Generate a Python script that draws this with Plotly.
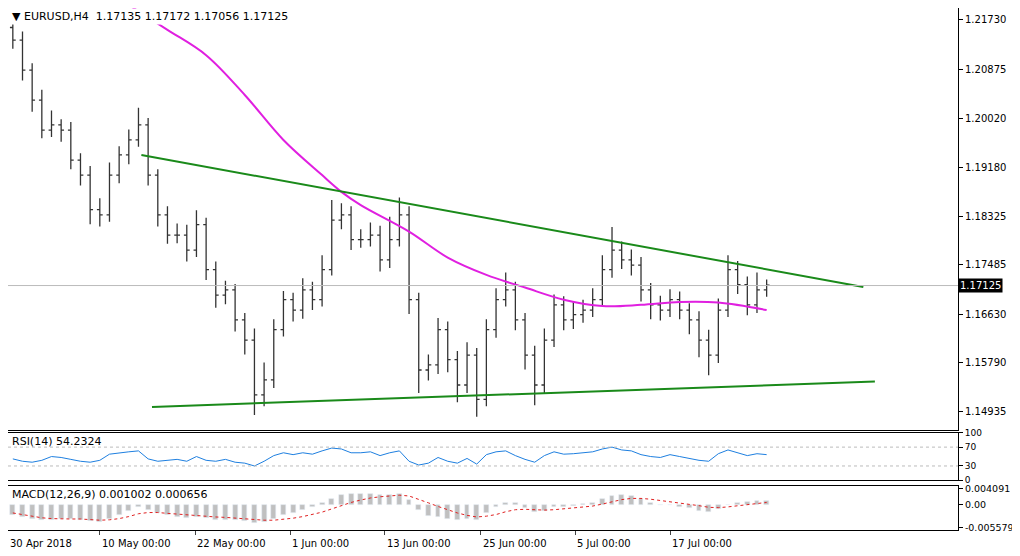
import plotly.graph_objects as go
from plotly.subplots import make_subplots

# closes, one bar per ~half day
closes = [1.2138, 1.2086, 1.2034, 1.1982, 1.1991, 1.1982, 1.1930, 1.1904, 1.1844, 1.1835,
          1.1904, 1.1939, 1.1965, 1.1991, 1.1904, 1.1835, 1.1800, 1.1800, 1.1774, 1.1818,
          1.1740, 1.1696, 1.1705, 1.1653, 1.1618, 1.1523, 1.1549, 1.1636, 1.1688, 1.1670,
          1.1705, 1.1688, 1.1740, 1.1826, 1.1835, 1.1792, 1.1792, 1.1800, 1.1757, 1.1792,
          1.1835, 1.1688, 1.1566, 1.1575, 1.1636, 1.1584, 1.1540, 1.1592, 1.1515, 1.1636,
          1.1688, 1.1705, 1.1653, 1.1592, 1.1540, 1.1618, 1.1679, 1.1653, 1.1662, 1.1670,
          1.1688, 1.1740, 1.1774, 1.1757, 1.1748, 1.1705, 1.1679, 1.1670, 1.1688, 1.1670,
          1.1653, 1.1618, 1.1592, 1.1670, 1.1740, 1.1714, 1.1679, 1.1705, 1.1713]
first_open = 1.2160
wick_hi = [20, 15, 12, 18, 25, 10, 14, 12, 16, 20, 22, 15, 18, 30, 12, 10, 15, 20, 18, 25,
           12, 14, 16, 10, 12, 20, 30, 18, 15, 12, 20, 14, 25, 35, 20, 15, 18, 22, 16, 40,
           30, 15, 12, 18, 20, 14, 15, 22, 12, 18, 20, 30, 14, 12, 16, 20, 18, 15, 22, 18,
           20, 25, 40, 15, 18, 14, 12, 16, 18, 14, 12, 15, 18, 20, 25, 15, 14, 30, 10]
wick_lo = [15, 18, 20, 14, 12, 20, 16, 18, 25, 20, 12, 14, 16, 12, 18, 20, 15, 14, 20, 12,
           18, 22, 16, 20, 25, 35, 20, 14, 12, 20, 15, 18, 12, 10, 16, 18, 14, 12, 20, 14,
           12, 25, 40, 18, 16, 22, 30, 14, 30, 12, 14, 12, 18, 25, 35, 14, 12, 18, 16, 14,
           12, 10, 14, 16, 18, 20, 25, 18, 12, 16, 25, 30, 35, 14, 12, 16, 18, 14, 12]

ma_idx = [12, 16, 20, 24, 28, 32, 34, 36, 41, 45, 49, 53, 57, 61, 65, 69, 73, 78]
ma_val = [1.2199, 1.2156, 1.2112, 1.2043, 1.1965, 1.1904, 1.1875, 1.1852, 1.1806, 1.1761,
          1.1731, 1.1709, 1.1688, 1.1677, 1.1679, 1.1684, 1.1683, 1.1670]

upper_line = ([13.3, 88.0], [1.1939, 1.1710])
lower_line = ([14.4, 89.2], [1.1502, 1.1546])

rsi = [45, 40, 38, 42, 50, 48, 44, 40, 38, 42, 55, 58, 60, 62, 45, 40, 42, 44, 40, 50,
       42, 40, 44, 38, 36, 30, 40, 52, 58, 54, 58, 55, 62, 68, 66, 58, 58, 60, 52, 58,
       62, 40, 32, 36, 48, 40, 36, 46, 34, 54, 60, 62, 52, 44, 38, 52, 60, 55, 56, 58,
       60, 66, 70, 64, 62, 54, 50, 48, 54, 50, 46, 42, 40, 56, 64, 58, 52, 56, 54]
macd_hist = [-0.0025, -0.003, -0.0035, -0.0038, -0.0036, -0.0034, -0.0035, -0.0036, -0.004, -0.0042,
             -0.0035, -0.0025, -0.0015, -0.0005, -0.0012, -0.002, -0.0026, -0.003, -0.0032, -0.003,
             -0.0033, -0.0036, -0.0036, -0.0038, -0.004, -0.0045, -0.0042, -0.0035, -0.0026, -0.002,
             -0.0012, -0.0006, 0.0004, 0.0016, 0.0024, 0.0026, 0.0027, 0.0027, 0.0024, 0.0025,
             0.0028, 0.0012, -0.0012, -0.0028, -0.003, -0.0034, -0.0038, -0.0034, -0.0036, -0.002,
             -0.0006, 0.0006, 0.0004, -0.0008, -0.0018, -0.0014, -0.0006, -0.0004, -0.0002, 0.0002,
             0.0006, 0.0014, 0.0022, 0.0024, 0.0022, 0.0014, 0.0006, 0.0, 0.0, -0.0004,
             -0.0008, -0.0014, -0.0018, -0.001, 0.0, 0.0006, 0.0008, 0.001, 0.001]
macd_signal = [-0.002, -0.0024, -0.0028, -0.0032, -0.0034, -0.0035, -0.0035, -0.0035, -0.0036, -0.0038,
               -0.0037, -0.0034, -0.0029, -0.0022, -0.0019, -0.0019, -0.0021, -0.0023, -0.0025, -0.0027,
               -0.0028, -0.003, -0.0031, -0.0033, -0.0035, -0.0037, -0.0038, -0.0038, -0.0036, -0.0033,
               -0.0029, -0.0024, -0.0018, -0.001, -0.0002, 0.0006, 0.0012, 0.0017, 0.002, 0.0022,
               0.0024, 0.0022, 0.0014, 0.0005, -0.0004, -0.0012, -0.002, -0.0026, -0.003, -0.0028,
               -0.0024, -0.0017, -0.0012, -0.0011, -0.0012, -0.0013, -0.0012, -0.001, -0.0008, -0.0006,
               -0.0003, 0.0002, 0.0008, 0.0013, 0.0016, 0.0016, 0.0014, 0.0011, 0.0008, 0.0005,
               0.0002, -0.0002, -0.0006, -0.0007, -0.0005, -0.0002, 0.0001, 0.0004, 0.0006]

date_labels = ["30 Apr 2018", "10 May 00:00", "22 May 00:00", "1 Jun 00:00",
               "13 Jun 00:00", "25 Jun 00:00", "5 Jul 00:00", "17 Jul 00:00"]
date_idx = [-0.5, 9.0, 18.9, 28.7, 38.5, 48.4, 58.2, 68.0]

price_ticks = [1.21730, 1.20875, 1.20020, 1.19180, 1.18325, 1.17485, 1.16630, 1.15790, 1.14935]
last_price = 1.17125

n = len(closes)
idx = list(range(n))
opens = [first_open] + closes[:-1]
highs = [max(o, c) + w / 10000 for o, c, w in zip(opens, closes, wick_hi)]
lows = [min(o, c) - w / 10000 for o, c, w in zip(opens, closes, wick_lo)]

fig = make_subplots(rows=3, cols=1, shared_xaxes=True)
fig.add_trace(go.Ohlc(x=idx, open=opens, high=highs, low=lows, close=closes,
                      increasing_line_color="#333", decreasing_line_color="#333",
                      line_width=1.3, tickwidth=0.3), row=1, col=1)
fig.add_trace(go.Scatter(x=ma_idx, y=ma_val, mode="lines", line=dict(color="#e020e0", width=2, shape="spline")), row=1, col=1)
for xs, ys in (upper_line, lower_line):
    fig.add_trace(go.Scatter(x=xs, y=ys, mode="lines", line=dict(color="#1a8a1a", width=2)), row=1, col=1)
fig.add_hline(y=last_price, line=dict(color="#bbbbbb", width=1), row=1, col=1)

fig.add_trace(go.Scatter(x=idx, y=rsi, mode="lines", line=dict(color="#1e7fe0", width=1)), row=2, col=1)
fig.add_trace(go.Bar(x=idx, y=macd_hist, marker_color="#c0c0c0", width=0.5), row=3, col=1)
fig.add_trace(go.Scatter(x=idx, y=macd_signal, mode="lines", line=dict(color="#e02020", width=1, dash="dot")), row=3, col=1)

axis_style = dict(showline=True, mirror=True, linecolor="black", linewidth=1, showgrid=False, automargin=False,
                  zeroline=False, side="right", ticks="outside", ticklen=4, tickcolor="black")
xstyle = dict(showline=True, mirror=True, linecolor="black", showgrid=False, automargin=False, range=[-0.5, 97.8])
fig.update_layout(
    width=1012, height=546, showlegend=False, plot_bgcolor="white", paper_bgcolor="white",
    margin=dict(l=0, r=62, t=0, b=22), bargap=0,
    font=dict(family="DejaVu Sans", size=10, color="black"),
    xaxis=dict(rangeslider=dict(visible=False), **xstyle),
    xaxis2=dict(**xstyle),
    xaxis3=dict(tickvals=date_idx[1:], showticklabels=False, ticks="outside", ticklen=4, **xstyle),
    yaxis=dict(domain=[0.195, 1], range=[1.14623, 1.21938], tickvals=price_ticks,
               ticktext=[f"{v:.5f}" for v in price_ticks], **axis_style),
    yaxis2=dict(domain=[0.099, 0.189], range=[0, 100], tickvals=[0, 30, 70, 100], tickfont=dict(size=9), **axis_style),
    yaxis3=dict(domain=[0.004, 0.088], range=[-0.0062, 0.0047], tickvals=[-0.005579, 0, 0.004091],
                ticktext=["-0.005579", "0.00", "0.004091"], tickfont=dict(size=9.5), **axis_style),
)
fig.update_xaxes(showticklabels=False, row=1, col=1)
fig.update_xaxes(showticklabels=False, row=2, col=1)
fig.add_shape(type="line", xref="x2", yref="y2", x0=-0.5, x1=97.8, y0=70, y1=70, line=dict(color="#bbb", width=1, dash="dot"))
fig.add_shape(type="line", xref="x2", yref="y2", x0=-0.5, x1=97.8, y0=30, y1=30, line=dict(color="#bbb", width=1, dash="dot"))

ann = dict(xref="paper", yref="paper", showarrow=False, xanchor="left", yanchor="top", font=dict(size=11))
fig.add_annotation(x=0.002, y=1.0, text="▼ EURUSD,H4  1.17135 1.17172 1.17056 1.17125", bgcolor="white", **ann)
fig.add_annotation(x=0.002, y=0.189, text="RSI(14) 54.2324", **ann)
fig.add_annotation(x=0.002, y=0.088, text="MACD(12,26,9) 0.001002 0.000656", **ann)
for d, lab in zip(date_idx, date_labels):
    fig.add_annotation(x=d, y=-0.008, xref="x3", yref="paper", text=lab, showarrow=False,
                       xanchor="left", yanchor="top", font=dict(size=10))
fig.add_annotation(x=1.0, y=last_price, xref="paper", yref="y", text=f"{last_price:.5f}", showarrow=False,
                   xanchor="left", bgcolor="black", font=dict(color="white", size=10))

fig.write_html("out.html")
